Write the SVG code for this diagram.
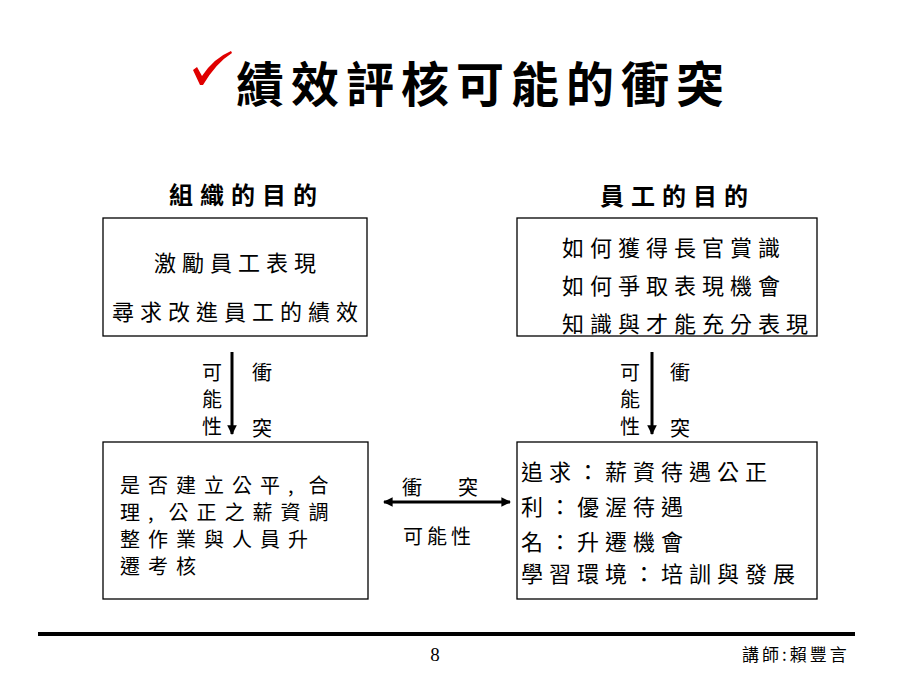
<svg xmlns="http://www.w3.org/2000/svg" width="900" height="675" viewBox="0 0 900 675">
<style>
.t{font-family:"Noto Sans CJK TC","Noto Sans CJK SC",sans-serif;fill:#000}
.b{font-size:22px;letter-spacing:6px}
.c{font-size:20px;letter-spacing:8px}
.v{font-size:20px}
.h{font-size:24px;font-weight:bold;letter-spacing:7px}
.box{fill:#fff;stroke:#000;stroke-width:1.3}
.ln{stroke:#000;stroke-width:3;fill:none}
</style>
<defs>
<marker id="ah" viewBox="0 0 10 10" refX="9" refY="5" markerWidth="3.2" markerHeight="3.2" orient="auto-start-reverse">
<path d="M0,0 L10,5 L0,10 Z" fill="#000"/>
</marker>
</defs>
<rect width="900" height="675" fill="#fff"/>

<g id="title">
<path d="M193,70 L197,67 L202,76 Q214,58 231,51 L232,53 Q216,63 203,85 L200,85 Z" fill="#e00000"/>
<text class="t" x="236" y="102" font-size="48" font-weight="bold" letter-spacing="7">績效評核可能的衝突</text>
</g>

<g id="org-goal">
<text class="t h" x="169" y="204">組織的目的</text>
<rect class="box" x="103" y="218" width="264" height="118"/>
<text class="t b" x="154" y="271">激勵員工表現</text>
<text class="t b" x="112" y="320">尋求改進員工的績效</text>
</g>

<g id="emp-goal">
<text class="t h" x="600" y="205">員工的目的</text>
<rect class="box" x="517" y="218" width="300" height="118"/>
<text class="t b" x="562" y="256">如何獲得長官賞識</text>
<text class="t b" x="562" y="294">如何爭取表現機會</text>
<text class="t b" x="562" y="332">知識與才能充分表現</text>
</g>

<g id="org-process">
<rect class="box" x="103" y="442" width="265" height="157"/>
<text class="t c" x="120" y="493">是否建立公平,<tspan dx="7">合</tspan></text>
<text class="t c" x="120" y="520">理,<tspan dx="7">公正之薪資調</tspan></text>
<text class="t c" x="120" y="547">整作業與人員升</text>
<text class="t c" x="120" y="574">遷考核</text>
</g>

<g id="emp-needs">
<rect class="box" x="517" y="442" width="300" height="157"/>
<text class="t b" x="521" y="480">追求：薪資待遇公正</text>
<text class="t b" x="521" y="515">利：優渥待遇</text>
<text class="t b" x="521" y="550">名：升遷機會</text>
<text class="t b" x="521" y="582">學習環境：培訓與發展</text>
</g>

<g id="connectors">
<line class="ln" x1="232" y1="352" x2="232" y2="434" marker-end="url(#ah)"/>
<line class="ln" x1="652" y1="352" x2="652" y2="434" marker-end="url(#ah)"/>
<line class="ln" x1="384" y1="502" x2="510" y2="502" marker-start="url(#ah)" marker-end="url(#ah)"/>
<text class="t v" x="212" y="380" text-anchor="middle">可</text>
<text class="t v" x="212" y="407" text-anchor="middle">能</text>
<text class="t v" x="212" y="434" text-anchor="middle">性</text>
<text class="t v" x="262" y="380" text-anchor="middle">衝</text>
<text class="t v" x="262" y="436" text-anchor="middle">突</text>
<text class="t v" x="630" y="380" text-anchor="middle">可</text>
<text class="t v" x="630" y="407" text-anchor="middle">能</text>
<text class="t v" x="630" y="434" text-anchor="middle">性</text>
<text class="t v" x="680" y="380" text-anchor="middle">衝</text>
<text class="t v" x="680" y="436" text-anchor="middle">突</text>
<text class="t v" x="412" y="495" text-anchor="middle">衝</text>
<text class="t v" x="468" y="495" text-anchor="middle">突</text>
<text class="t v" x="403" y="544" font-size="21" letter-spacing="4">可能性</text>
</g>

<g id="footer">
<rect x="38" y="632" width="817" height="4" fill="#000"/>
<text x="435" y="661" font-family="Liberation Serif, serif" font-size="19" text-anchor="middle">8</text>
<text class="t" x="742" y="661" font-size="17" letter-spacing="3">講師:賴豐言</text>
</g>
</svg>
